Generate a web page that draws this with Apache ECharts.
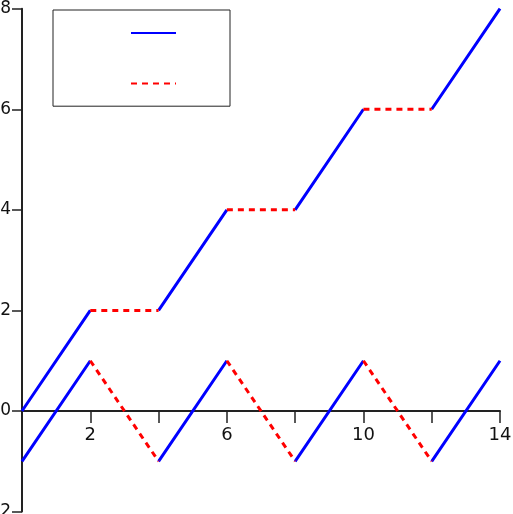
<!DOCTYPE html>
<html>
<head>
<meta charset="utf-8">
<script src="https://cdn.jsdelivr.net/npm/echarts@6/dist/echarts.min.js"></script>
<style>html,body{margin:0;padding:0;background:#fff;}#c{width:513px;height:514px;}</style>
</head>
<body>
<div id="c"></div>
<script>
// Data
const xs = [0, 2, 4, 6, 8, 10, 12, 14];
const upper = [0, 2, 2, 4, 4, 6, 6, 8];
const lower = [-1, 1, -1, 1, -1, 1, -1, 1];
const xLabels = [2, 6, 10, 14];
const yTicks = [-2, 0, 2, 4, 6, 8];
const yMin = -2, yMax = 8;

// segments: even index -> solid blue, odd index -> dashed red
function segs(ys, parity) {
  const out = [];
  for (let i = 0; i < xs.length - 1; i++) {
    if (i % 2 === parity) {
      out.push([xs[i], ys[i]], [xs[i + 1], ys[i + 1]], '-');
    }
  }
  return out;
}

const W = 513, H = 514;
const gTop = 8.7, gBottom = 2.4;
const gH = H - gTop - gBottom;
// place x axis at y = 0
const xOffset = -gH * (0 - yMin) / (yMax - yMin);

const blueStyle = { color: '#0000ff', width: 3, type: 'solid', cap: 'butt' };
const redStyle = { color: '#ff0000', width: 3, type: [6, 5], cap: 'butt' };

const chart = echarts.init(document.getElementById('c'), null, { renderer: 'canvas' });
const axisColor = '#222';
chart.setOption({
  animation: false,
  backgroundColor: '#fff',
  textStyle: { fontFamily: 'DejaVu Sans' },
  grid: { left: 22, right: 13, top: gTop, bottom: gBottom, containLabel: false, outerBoundsMode: 'none' },
  legend: {
    orient: 'vertical',
    left: 53, top: 10,
    padding: [16, 53, 17, 77],
    itemWidth: 45, itemHeight: 14, itemGap: 38,
    borderColor: '#222', borderWidth: 1, backgroundColor: '#fff',
    formatter: function () { return ''; },
    itemStyle: { color: 'rgba(0,0,0,0)', borderColor: 'rgba(0,0,0,0)', borderWidth: 0, opacity: 0 },
    data: ['A', 'B'],
    selectedMode: false
  },
  xAxis: {
    type: 'value', min: 0, max: 14, interval: 2,
    position: 'bottom', offset: xOffset,
    axisLine: { onZero: false, lineStyle: { color: axisColor, width: 2 } },
    axisTick: { show: true, inside: false, length: 12, lineStyle: { color: axisColor, width: 1.5 } },
    splitLine: { show: false },
    axisLabel: {
      margin: 15, fontSize: 18, color: '#111', fontFamily: 'DejaVu Sans',
      showMinLabel: true, showMaxLabel: true,
      formatter: function (v) { return xLabels.indexOf(v) >= 0 ? String(v) : ''; }
    }
  },
  yAxis: {
    type: 'value', min: yMin, max: yMax, interval: 2,
    axisLine: { show: true, onZero: false, lineStyle: { color: axisColor, width: 2 } },
    axisTick: { show: true, inside: false, length: 10, lineStyle: { color: axisColor, width: 1.5 } },
    splitLine: { show: false },
    axisLabel: {
      margin: 11, fontSize: 17, color: '#111', fontFamily: 'DejaVu Sans',
      showMinLabel: true, showMaxLabel: true,
      formatter: function (v) { return yTicks.indexOf(v) >= 0 ? String(v) : ''; }
    }
  },
  series: [
    { name: 'A', type: 'line', data: segs(upper, 0), symbol: 'none', showSymbol: false, connectNulls: false, lineStyle: blueStyle, itemStyle: { color: '#0000ff' } },
    { name: 'A', type: 'line', data: segs(lower, 0), symbol: 'none', showSymbol: false, connectNulls: false, lineStyle: blueStyle, itemStyle: { color: '#0000ff' } },
    { name: 'B', type: 'line', data: segs(upper, 1), symbol: 'none', showSymbol: false, connectNulls: false, lineStyle: redStyle, itemStyle: { color: '#ff0000' } },
    { name: 'B', type: 'line', data: segs(lower, 1), symbol: 'none', showSymbol: false, connectNulls: false, lineStyle: redStyle, itemStyle: { color: '#ff0000' } }
  ]
});
</script>
</body>
</html>
